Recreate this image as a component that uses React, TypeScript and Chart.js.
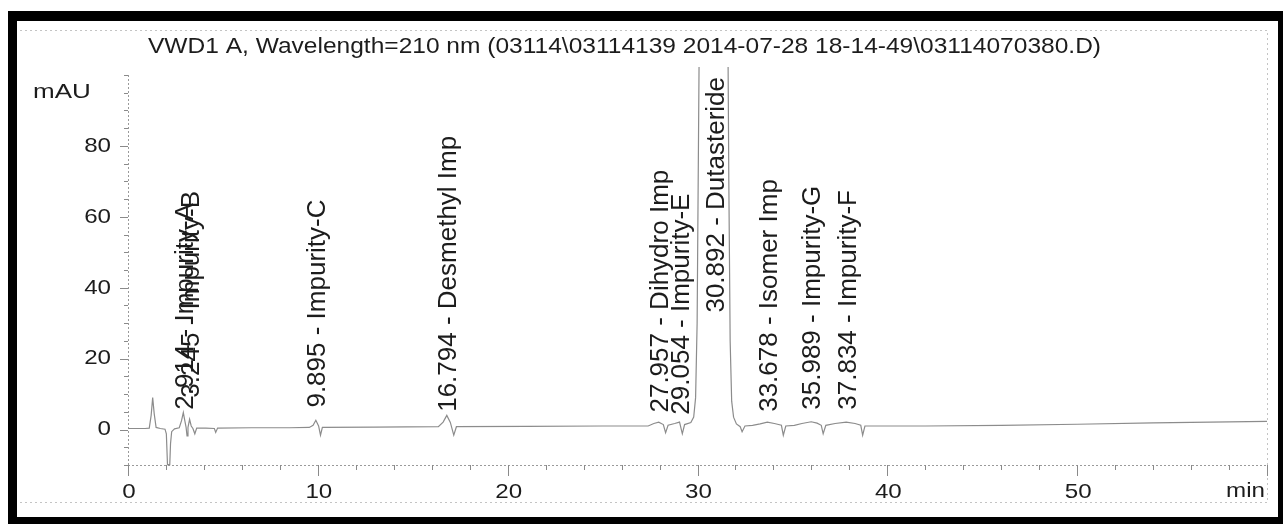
import React, { useEffect, useRef } from "react";
import { Chart, registerables } from "chart.js";

Chart.register(...registerables);

// ---------- data ----------
const TITLE = "VWD1 A, Wavelength=210 nm (03114\\03114139 2014-07-28 18-14-49\\03114070380.D)";
const Y_UNIT = "mAU";
const X_UNIT = "min";
const X_TICK_LABELS = [0, 10, 20, 30, 40, 50];
const Y_TICK_LABELS = [0, 20, 40, 60, 80];
const X_MIN = 0;
const X_MAX = 60;
const Y_MIN = -10;
const Y_MAX = 100;

// chromatogram trace: retention time (min) and absorbance (mAU)
const traceTime = [
  0, 0.9, 1.12, 1.22, 1.3, 1.38, 1.48, 1.7, 1.95, 2.02, 2.08, 2.2, 2.24, 2.3, 2.45,
  2.7, 2.82, 2.914, 2.99, 3.06, 3.11, 3.16, 3.245, 3.33, 3.42, 3.52, 3.62, 4.1, 4.55,
  4.62, 4.72, 6.5, 8.5, 9.55, 9.75, 9.895, 10.04, 10.14, 10.24, 13, 16.35, 16.6,
  16.794, 16.98, 17.16, 17.3, 21, 25, 27.4, 27.7, 27.957, 28.2, 28.32, 28.45, 28.8,
  29.054, 29.2, 29.32, 29.65, 29.8, 29.9, 29.98, 30.05, 30.12, 31.58, 31.65, 31.72,
  31.8, 31.9, 32.05, 32.25, 32.35, 32.5, 32.9, 33.3, 33.678, 34.05, 34.42, 34.52,
  34.65, 35.1, 35.5, 35.989, 36.3, 36.52, 36.62, 36.76, 37.25, 37.834, 38.3, 38.6,
  38.7, 38.82, 42, 46, 50, 54, 57, 60,
];
const traceMAU = [
  0.3, 0.3, 0.4, 4, 9, 4.5, 0.6, 0.3, 0.1, -1.2, -9.9, -9.9, -4, -0.6, 0.2,
  0.5, 2.5, 4.8, 2.6, 0.6, -1.8, 0.6, 2.9, 1.0, 0.3, -1.2, 0.4, 0.4, 0.3,
  -0.8, 0.4, 0.5, 0.5, 0.6, 1.2, 2.6, 1.0, -1.6, 0.6, 0.7, 0.8, 2.1,
  4.0, 2.0, -1.6, 0.8, 0.9, 1.0, 1.0, 1.7, 2.1, 1.4, -0.9, 1.2, 1.7,
  2.1, -1.2, 1.4, 2.0, 3.5, 9, 30, 80, 130, 130, 70, 25,
  8, 3.5, 1.6, 0.8, -0.6, 1.0, 1.2, 1.6, 2.1, 1.7, 1.2, -1.6,
  1.0, 1.2, 1.7, 2.2, 1.8, 1.2, -1.2, 1.2, 1.7, 2.1, 1.7, 1.2,
  -1.6, 1.0, 1.0, 1.2, 1.5, 1.9, 2.1, 2.3,
];

// integrated peaks
const peakTimes = [2.914, 3.245, 9.895, 16.794, 27.957, 29.054, 30.892, 33.678, 35.989, 37.834];
const peakNames = [
  "Impurity-A", "Impurity-B", "Impurity-C", "Desmethyl Imp", "Dihydro Imp",
  "Impurity-E", "Dutasteride", "Isomer Imp", "Impurity-G", "Impurity-F",
];
// mAU level at which each vertical peak label begins
const labelBase = [5.6, 9, 6.2, 5, 4.8, 4.2, 33, 5, 5.6, 5.6];

// ---------- drawing ----------
const FONT = '"Liberation Sans", Arial, Helvetica, sans-serif';
const INK = "#1c1c1c";

function drawText(
  ctx: CanvasRenderingContext2D,
  text: string,
  x: number,
  y: number,
  size: number,
  sx: number,
  align: CanvasTextAlign
) {
  ctx.save();
  ctx.font = `${size}px ${FONT}`;
  ctx.fillStyle = INK;
  ctx.translate(x, y);
  ctx.scale(sx, 1);
  ctx.textAlign = align;
  ctx.textBaseline = "middle";
  ctx.fillText(text, 0, 0);
  ctx.restore();
}

const decorPlugin = {
  id: "chromDecor",
  beforeDraw(chart: any) {
    const ctx: CanvasRenderingContext2D = chart.ctx;
    ctx.save();
    ctx.fillStyle = "#ffffff";
    ctx.fillRect(0, 0, chart.width, chart.height);
    ctx.restore();
  },
  beforeDatasetsDraw(chart: any) {
    const ctx: CanvasRenderingContext2D = chart.ctx;
    const xs = chart.scales.x;
    const ys = chart.scales.y;
    const area = chart.chartArea;
    const x0 = xs.getPixelForValue(X_MIN);
    const x1 = xs.getPixelForValue(X_MAX);
    const yTop = ys.getPixelForValue(Y_MAX);
    const yBot = ys.getPixelForValue(Y_MIN);

    ctx.save();
    // faint outer plot frame
    ctx.strokeStyle = "#c4c4c4";
    ctx.lineWidth = 1;
    ctx.setLineDash([2, 3]);
    ctx.beginPath();
    ctx.moveTo(20, 30.5);
    ctx.lineTo(area.right + 0.5, 30.5);
    ctx.lineTo(area.right + 0.5, 502.5);
    ctx.lineTo(20, 502.5);
    ctx.stroke();

    // axes
    ctx.strokeStyle = "#9a9a9a";
    ctx.setLineDash([2, 2]);
    ctx.beginPath();
    ctx.moveTo(x0 + 0.5, yTop);
    ctx.lineTo(x0 + 0.5, yBot);
    ctx.moveTo(x0, yBot + 0.5);
    ctx.lineTo(x1, yBot + 0.5);
    ctx.stroke();
    ctx.setLineDash([]);

    // y ticks
    ctx.strokeStyle = "#8a8a8a";
    ctx.beginPath();
    for (let v = Y_MIN; v <= Y_MAX; v += 5) {
      const py = Math.round(ys.getPixelForValue(v)) + 0.5;
      const major = Y_TICK_LABELS.includes(v);
      ctx.moveTo(x0 - (major ? 8 : 4), py);
      ctx.lineTo(x0, py);
    }
    // x ticks
    for (let t = X_MIN; t <= X_MAX; t += 2) {
      const px = Math.round(xs.getPixelForValue(t)) + 0.5;
      const major = t % 10 === 0;
      ctx.moveTo(px, yBot);
      ctx.lineTo(px, yBot + (major ? 11 : 5));
    }
    ctx.stroke();
    ctx.restore();
  },
  afterDatasetsDraw(chart: any) {
    const ctx: CanvasRenderingContext2D = chart.ctx;
    const xs = chart.scales.x;
    const ys = chart.scales.y;
    const x0 = xs.getPixelForValue(X_MIN);
    const yBot = ys.getPixelForValue(Y_MIN);

    // title
    drawText(ctx, TITLE, 148, 47, 22, 1.115, "left");
    // unit labels
    drawText(ctx, Y_UNIT, 33, 92, 20, 1.3, "left");
    drawText(ctx, X_UNIT, chart.chartArea.right - 2, yBot + 26, 21, 1.15, "right");

    // y tick labels
    for (const v of Y_TICK_LABELS) {
      drawText(ctx, String(v), x0 - 17, ys.getPixelForValue(v), 21, 1.15, "right");
    }
    // x tick labels
    for (const t of X_TICK_LABELS) {
      drawText(ctx, String(t), xs.getPixelForValue(t) + 1, yBot + 27, 21, 1.15, "center");
    }

    // vertical peak labels
    const size = 26;
    ctx.save();
    ctx.font = `${size}px ${FONT}`;
    ctx.fillStyle = INK;
    ctx.textAlign = "left";
    ctx.textBaseline = "alphabetic";
    peakTimes.forEach((rt, i) => {
      const px = xs.getPixelForValue(rt);
      const py = ys.getPixelForValue(labelBase[i]);
      const text = `${rt.toFixed(3)} - ${peakNames[i]}`;
      ctx.save();
      ctx.translate(px, py);
      ctx.rotate(-Math.PI / 2);
      ctx.fillText(text, 0, size * 0.358);
      ctx.restore();
    });
    ctx.restore();

    // black scan border
    ctx.save();
    ctx.fillStyle = "#000000";
    ctx.fillRect(8, 11, 1275, 10);
    ctx.fillRect(8, 11, 9, 513);
    ctx.fillRect(8, 517, 1275, 7);
    ctx.fillRect(1278, 11, 5, 513);
    ctx.restore();
  },
};

export default function App() {
  const ref = useRef<HTMLCanvasElement | null>(null);

  useEffect(() => {
    const canvas = ref.current;
    if (!canvas) return;
    const points = traceTime.map((t, i) => ({ x: t, y: traceMAU[i] }));
    const chart = new Chart(canvas, {
      type: "line",
      data: {
        datasets: [
          {
            data: points,
            borderColor: "#8c8c8c",
            borderWidth: 1.2,
            pointRadius: 0,
            tension: 0,
            fill: false,
            clip: { left: 2, right: 2, top: 8, bottom: 2 },
          },
        ],
      },
      options: {
        animation: false,
        responsive: false,
        maintainAspectRatio: false,
        devicePixelRatio: 1,
        events: [],
        layout: { padding: { left: 128, right: 16, top: 75, bottom: 59 } },
        scales: {
          x: { type: "linear", min: X_MIN, max: X_MAX, display: false },
          y: { type: "linear", min: Y_MIN, max: Y_MAX, display: false },
        },
        plugins: {
          legend: { display: false },
          tooltip: { enabled: false },
          title: { display: false },
        },
      },
      plugins: [decorPlugin],
    } as any);
    return () => chart.destroy();
  }, []);

  return (
    <div style={{ position: "absolute", left: 0, top: 0, width: 1283, height: 524, background: "#fff" }}>
      <canvas ref={ref} width={1283} height={524} style={{ display: "block", width: 1283, height: 524 }} />
    </div>
  );
}
